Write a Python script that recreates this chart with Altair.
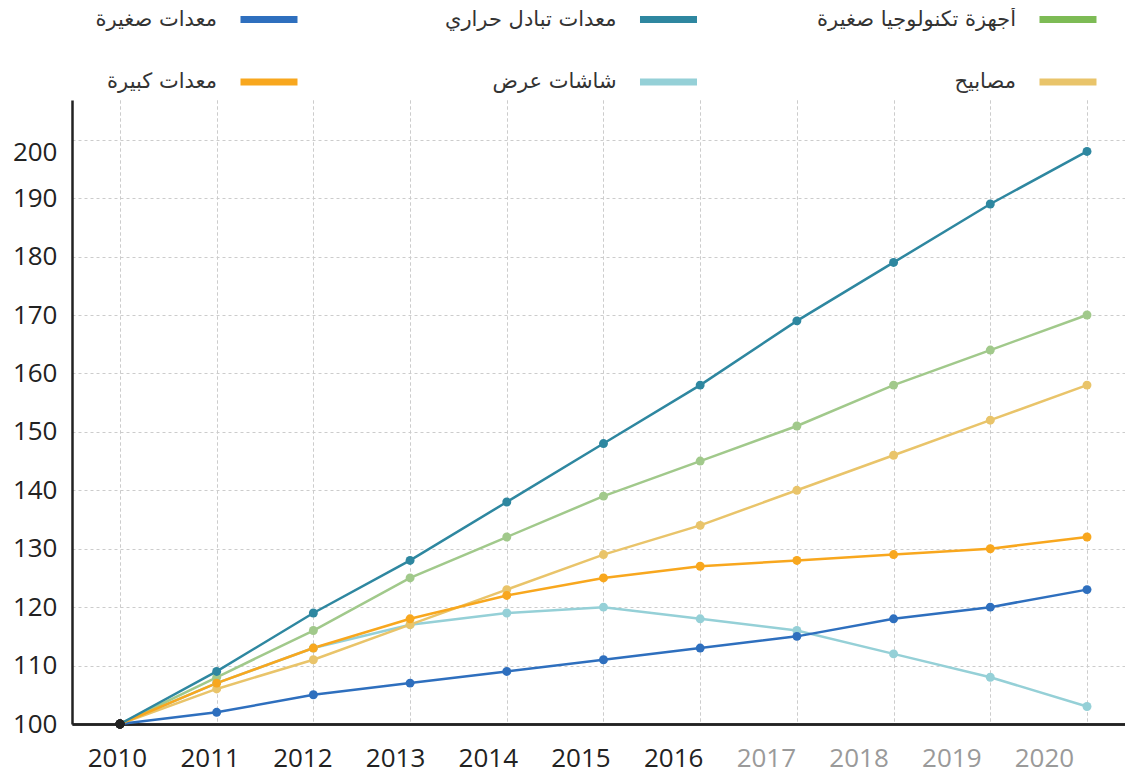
import altair as alt
import pandas as pd

# ---- data ----
years = list(range(2010, 2021))

series_names = [
    "أجهزة تكنولوجيا صغيرة",
    "معدات تبادل حراري",
    "معدات صغيرة",
    "مصابيح",
    "شاشات عرض",
    "معدات كبيرة",
]
legend_colors = ["#7dbb55", "#2e87a0", "#2e6fbe", "#e9c46a", "#95d0d7", "#f8a71e"]
line_colors = ["#a1c98b", "#2e87a0", "#2e6fbe", "#e9c46a", "#95d0d7", "#f8a71e"]
legend_row = [1, 1, 1, 2, 2, 2]
legend_col = [2, 1, 0, 2, 1, 0]

v_tech = [100, 108, 116, 125, 132, 139, 145, 151, 158, 164, 170]
v_heat = [100, 109, 119, 128, 138, 148, 158, 169, 179, 189, 198]
v_small = [100, 102, 105, 107, 109, 111, 113, 115, 118, 120, 123]
v_lamps = [100, 106, 111, 117, 123, 129, 134, 140, 146, 152, 158]
v_screens = [100, 107, 113, 117, 119, 120, 118, 116, 112, 108, 103]
v_large = [100, 107, 113, 118, 122, 125, 127, 128, 129, 130, 132]

series_values = [v_tech, v_heat, v_small, v_lamps, v_screens, v_large]
draw_order = [4, 3, 0, 2, 5, 1]  # bottom to top

y_ticks = list(range(100, 201, 10))

# ---- tables ----
rows = []
for i in draw_order:
    for yr, val in zip(years, series_values[i]):
        rows.append({"series": series_names[i], "year": yr, "value": val})
df = pd.DataFrame(rows)

leg_df = pd.DataFrame({
    "name": series_names,
    "color": legend_colors,
    "row": legend_row,
    "col": legend_col,
})
lab_df = pd.DataFrame({"year": years})

color_scale = alt.Scale(domain=series_names, range=line_colors)

x_main = alt.X(
    "year:Q",
    scale=alt.Scale(domain=[2009.504, 2020.393], nice=False, zero=False),
    axis=alt.Axis(orient="bottom", values=years, labels=False, ticks=False,
                  grid=True, gridDash=[3, 3], gridColor="#cccccc", gridWidth=1,
                  domainColor="#222222", domainWidth=2.5, title=None),
)
y_main = alt.Y(
    "value:Q",
    scale=alt.Scale(domain=[100, 206.8], nice=False, zero=False),
    axis=alt.Axis(values=y_ticks, ticks=False, grid=True, gridDash=[3, 3],
                  gridColor="#cccccc", gridWidth=1, domainColor="#222222",
                  domainWidth=2.5, labelFontSize=26, labelColor="#222222",
                  labelFont="Open Sans", labelPadding=15, minExtent=64,
                  maxExtent=64, labelFlush=False,
                  labelBaseline={"expr": "datum.value >= 200 ? 'top' : 'middle'"},
                  title=None),
)

lines = alt.Chart(df).mark_line(strokeWidth=2.5).encode(
    x=x_main, y=y_main,
    color=alt.Color("series:N", scale=color_scale, legend=None),
    detail="series:N",
)
points = alt.Chart(df).mark_circle(size=80, opacity=1).encode(
    x=x_main, y=y_main,
    color=alt.condition("datum.year == 2010", alt.value("#222222"),
                        alt.Color("series:N", scale=color_scale, legend=None)),
)
label_layer = alt.Chart(lab_df).mark_point(opacity=0).encode(
    x=alt.X(
        "year:Q",
        scale=alt.Scale(domain=[2009.515, 2020.874], nice=False, zero=False),
        axis=alt.Axis(orient="bottom", values=years, format="d", domain=False,
                      ticks=False, grid=False, labelFontSize=26,
                      labelFont="Open Sans", labelFlush=False,
                      labelColor={"expr": "datum.value > 2016 ? '#9a9a9a' : '#222222'"},
                      labelPadding=21, title=None),
    ),
)

main = alt.layer(lines, points, label_layer).resolve_scale(x="independent").properties(
    width=1053, height=624
)

leg_base = alt.Chart(leg_df).encode(
    x=alt.X("col:Q", scale=alt.Scale(domain=[-0.4931, 2.1427], nice=False, zero=False), axis=None),
    y=alt.Y("row:Q", scale=alt.Scale(domain=[0.816, 2.176], nice=False, zero=False, reverse=True), axis=None),
)
swatches = leg_base.mark_point(
    shape="M-1,-0.123L1,-0.123L1,0.123L-1,0.123Z", size=3249, filled=True, opacity=1
).encode(color=alt.Color("color:N", scale=None))
texts = leg_base.mark_text(
    align="right", baseline="middle", dx=-52, fontSize=21, font="DejaVu Sans", color="#333333"
).encode(text="name:N")
legend = alt.layer(swatches, texts).properties(width=1053, height=85)

chart = alt.vconcat(legend, main, spacing=7, bounds="flush").properties(
    padding=0
).configure_view(stroke=None)

chart.save("out.html", embed_options={"renderer": "svg", "actions": False})
